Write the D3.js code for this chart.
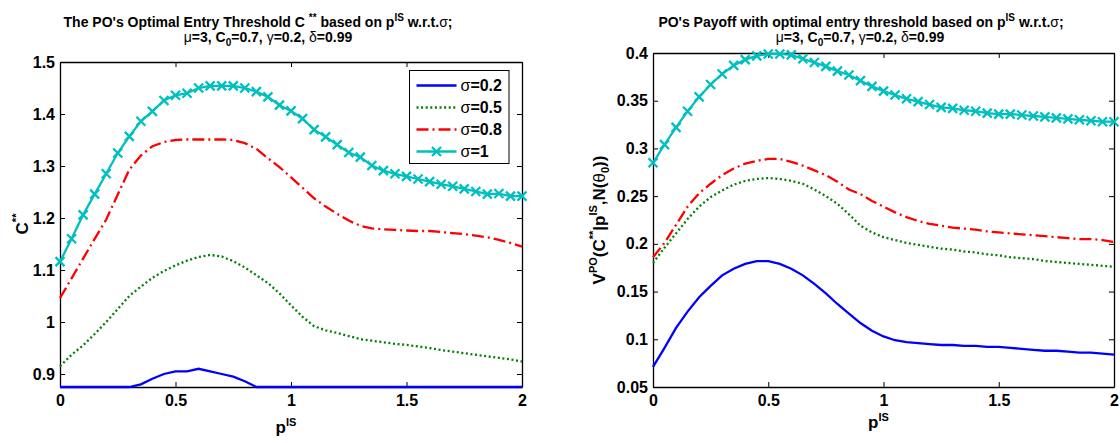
<!DOCTYPE html>
<html>
<head>
<meta charset="utf-8">
<script src="https://cdn.jsdelivr.net/npm/d3@7"></script>
<style>
  body { margin: 0; background: #fff; }
  svg text { font-family: "Liberation Sans", Arial, Helvetica, sans-serif; font-weight: bold; fill: #000; }
  .greek { font-weight: normal; }
</style>
</head>
<body>
<svg id="fig" width="1120" height="443"></svg>
<script>
// ---- data ----
const pIS = [0, 0.05, 0.1, 0.15, 0.2, 0.25, 0.3, 0.35, 0.4, 0.45, 0.5, 0.55, 0.6, 0.65, 0.7,
  0.75, 0.8, 0.85, 0.9, 0.95, 1, 1.05, 1.1, 1.15, 1.2, 1.25, 1.3, 1.35, 1.4, 1.45, 1.5,
  1.55, 1.6, 1.65, 1.7, 1.75, 1.8, 1.85, 1.9, 1.95, 2];

const xTicks = [0, 0.5, 1, 1.5, 2];
const thresholdTicks = [0.9, 1, 1.1, 1.2, 1.3, 1.4, 1.5];
const payoffTicks = [0.05, 0.1, 0.15, 0.2, 0.25, 0.3, 0.35, 0.4];
const sigmaLabels = ['0.2', '0.5', '0.8', '1'];

// optimal entry threshold C**
const thrS02 = [0.875, 0.875, 0.875, 0.875, 0.875, 0.875, 0.875, 0.880, 0.891, 0.900,
  0.905, 0.905, 0.910, 0.905, 0.900, 0.895, 0.886, 0.875, 0.875, 0.875,
  0.875, 0.875, 0.875, 0.875, 0.875, 0.875, 0.875, 0.875, 0.875, 0.875,
  0.875, 0.875, 0.875, 0.875, 0.875, 0.875, 0.875, 0.875, 0.875, 0.875, 0.875];
const thrS05 = [0.915, 0.937, 0.955, 0.977, 1.000, 1.025, 1.050, 1.068, 1.085, 1.098,
  1.109, 1.118, 1.125, 1.129, 1.126, 1.117, 1.105, 1.090, 1.075, 1.055,
  1.032, 1.010, 0.992, 0.984, 0.979, 0.973, 0.967, 0.964, 0.961, 0.958,
  0.956, 0.953, 0.950, 0.946, 0.943, 0.940, 0.937, 0.934, 0.931, 0.928, 0.924];
const thrS08 = [1.046, 1.084, 1.122, 1.160, 1.197, 1.245, 1.293, 1.320, 1.338, 1.346,
  1.350, 1.351, 1.351, 1.351, 1.351, 1.350, 1.344, 1.333, 1.315, 1.298,
  1.278, 1.258, 1.238, 1.222, 1.208, 1.195, 1.185, 1.180, 1.178, 1.177,
  1.176, 1.175, 1.175, 1.173, 1.171, 1.169, 1.166, 1.163, 1.158, 1.152, 1.145];
const thrS1 = [1.116, 1.160, 1.206, 1.246, 1.285, 1.325, 1.357, 1.386, 1.405, 1.426,
  1.436, 1.440, 1.450, 1.454, 1.454, 1.454, 1.450, 1.443, 1.433, 1.417,
  1.406, 1.391, 1.370, 1.356, 1.341, 1.326, 1.317, 1.301, 1.291, 1.285,
  1.280, 1.275, 1.270, 1.265, 1.261, 1.256, 1.251, 1.246, 1.247, 1.242, 1.242];

// PO's payoff V^PO
const payS02 = [0.071, 0.091, 0.112, 0.129, 0.144, 0.156, 0.167, 0.174, 0.179, 0.182,
  0.182, 0.179, 0.174, 0.167, 0.158, 0.148, 0.137, 0.127, 0.117, 0.109,
  0.103, 0.099, 0.097, 0.096, 0.095, 0.094, 0.094, 0.093, 0.093, 0.092,
  0.092, 0.091, 0.090, 0.089, 0.088, 0.088, 0.087, 0.086, 0.086, 0.085, 0.084];
const payS05 = [0.180, 0.196, 0.211, 0.226, 0.239, 0.249, 0.256, 0.262, 0.266, 0.268,
  0.269, 0.268, 0.266, 0.263, 0.257, 0.250, 0.242, 0.231, 0.219, 0.212,
  0.207, 0.204, 0.201, 0.199, 0.197, 0.195, 0.194, 0.192, 0.191, 0.189,
  0.188, 0.186, 0.185, 0.184, 0.182, 0.181, 0.180, 0.179, 0.178, 0.177, 0.176];
const payS08 = [0.186, 0.201, 0.220, 0.239, 0.253, 0.263, 0.272, 0.279, 0.284, 0.287,
  0.289, 0.289, 0.286, 0.282, 0.277, 0.272, 0.265, 0.257, 0.252, 0.245,
  0.239, 0.233, 0.228, 0.224, 0.221, 0.219, 0.217, 0.216, 0.215, 0.213,
  0.212, 0.211, 0.210, 0.209, 0.208, 0.207, 0.206, 0.205, 0.205, 0.204, 0.202];
const payS1 = [0.285, 0.304, 0.322, 0.339, 0.354, 0.367, 0.378, 0.387, 0.393, 0.397,
  0.399, 0.399, 0.398, 0.394, 0.390, 0.386, 0.381, 0.377, 0.371, 0.365,
  0.360, 0.356, 0.352, 0.349, 0.346, 0.343, 0.342, 0.340, 0.339, 0.337,
  0.336, 0.336, 0.335, 0.334, 0.333, 0.332, 0.331, 0.330, 0.329, 0.328, 0.328];

// ---- styles per sigma ----
const styles = [
  { color: '#0000ff', dash: null, marker: false },
  { color: '#008000', dash: '2,2.6', marker: false },
  { color: '#ff0000', dash: '12,4,2,4', marker: false },
  { color: '#00bfbf', dash: null, marker: true }
];

const svg = d3.select('#fig');
const crossPath = 'M-4.5,-4.5L4.5,4.5M-4.5,4.5L4.5,-4.5';
const lineW = 2.3;

function drawPanel(opt) {
  const x = d3.scaleLinear().domain([0, 2]).range([opt.left, opt.right]);
  const y = d3.scaleLinear().domain(opt.yDomain).range([opt.bottom, opt.top]);
  const g = svg.append('g');

  function styleAxis(sel) {
    sel.attr('font-size', 16).attr('font-family', null);
    sel.selectAll('path.domain').attr('stroke', '#000').attr('stroke-width', 1.3);
    sel.selectAll('.tick line').attr('stroke', '#000');
  }

  g.append('g').attr('transform', `translate(0,${opt.bottom})`)
    .call(d3.axisBottom(x).tickValues(xTicks).tickSizeInner(-5).tickSizeOuter(0)
      .tickPadding(8).tickFormat(d => String(d)))
    .call(styleAxis);
  g.append('g').attr('transform', `translate(0,${opt.top})`)
    .call(d3.axisTop(x).tickValues(xTicks).tickSizeInner(-5).tickSizeOuter(0).tickFormat(''))
    .call(styleAxis);
  g.append('g').attr('transform', `translate(${opt.left},0)`)
    .call(d3.axisLeft(y).tickValues(opt.yTicks).tickSizeInner(-5).tickSizeOuter(0)
      .tickPadding(5).tickFormat(d => String(d)))
    .call(styleAxis);
  g.append('g').attr('transform', `translate(${opt.right},0)`)
    .call(d3.axisRight(y).tickValues(opt.yTicks).tickSizeInner(-5).tickSizeOuter(0).tickFormat(''))
    .call(styleAxis);

  const line = d3.line().x((d, i) => x(pIS[i])).y(d => y(d));

  opt.series.forEach((s, k) => {
    const st = styles[k];
    g.append('path')
      .datum(s)
      .attr('fill', 'none')
      .attr('stroke', st.color)
      .attr('stroke-width', lineW)
      .attr('stroke-dasharray', st.dash)
      .attr('d', line);
    if (st.marker) {
      g.append('g').selectAll('path')
        .data(s)
        .join('path')
        .attr('transform', (d, i) => `translate(${x(pIS[i])},${y(d)})`)
        .attr('d', crossPath)
        .attr('fill', 'none')
        .attr('stroke', st.color)
        .attr('stroke-width', lineW);
    }
  });

  // x label p^IS
  const xl = g.append('text')
    .attr('x', (opt.left + opt.right) / 2 - 5)
    .attr('y', opt.xLabelY)
    .attr('text-anchor', 'middle')
    .attr('font-size', 17);
  xl.append('tspan').text('p');
  xl.append('tspan').attr('font-size', 11).attr('dy', -7).text('IS');

  return { x, y, g };
}

function addTitle(cx1, cx2, parts) {
  const t1 = svg.append('text').attr('x', cx1).attr('y', 27)
    .attr('text-anchor', 'middle').attr('font-size', 14);
  parts.forEach(p => {
    const ts = t1.append('tspan').text(p.t);
    if (p.sup) ts.attr('font-size', 10).attr('dy', -6);
    if (p.back) ts.attr('dy', 6).attr('font-size', 14);
    if (p.greek) ts.attr('class', 'greek');
  });
  const t2 = svg.append('text').attr('x', cx2).attr('y', 42)
    .attr('text-anchor', 'middle').attr('font-size', 14);
  t2.append('tspan').attr('class', 'greek').text('μ');
  t2.append('tspan').text('=3, C');
  t2.append('tspan').attr('font-size', 10).attr('dy', 4).text('0');
  t2.append('tspan').attr('dy', -4).text('=0.7, ');
  t2.append('tspan').attr('class', 'greek').text('γ');
  t2.append('tspan').text('=0.2, ');
  t2.append('tspan').attr('class', 'greek').text('δ');
  t2.append('tspan').text('=0.99');
}

// ---- left panel: optimal entry threshold ----
const left = drawPanel({
  left: 60, right: 522, top: 62, bottom: 387,
  yDomain: [0.875, 1.5], yTicks: thresholdTicks,
  series: [thrS02, thrS05, thrS08, thrS1],
  xLabelY: 433
});

const yl1 = svg.append('text')
  .attr('transform', 'translate(28,224) rotate(-90)')
  .attr('text-anchor', 'middle')
  .attr('font-size', 17);
yl1.append('tspan').text('C');
yl1.append('tspan').attr('font-size', 11).attr('dy', -8).text('**');

addTitle(258, 268, [
  { t: "The PO's Optimal Entry Threshold C " },
  { t: '**', sup: true },
  { t: ' based on p', back: true },
  { t: 'IS', sup: true },
  { t: ' w.r.t.', back: true },
  { t: 'σ', greek: true },
  { t: ';' }
]);

// legend
const lg = svg.append('g').attr('transform', 'translate(409.5,70.5)');
lg.append('rect').attr('width', 99.5).attr('height', 93)
  .attr('fill', '#fff').attr('stroke', '#000').attr('stroke-width', 1);
const rowY = d3.scalePoint().domain(sigmaLabels).range([15, 81]);
sigmaLabels.forEach((lab, k) => {
  const st = styles[k];
  const yy = rowY(lab);
  lg.append('line').attr('x1', 7).attr('x2', 47).attr('y1', yy).attr('y2', yy)
    .attr('stroke', st.color).attr('stroke-width', lineW)
    .attr('stroke-dasharray', st.dash);
  if (st.marker) {
    lg.append('path').attr('transform', `translate(27,${yy})`).attr('d', crossPath)
      .attr('fill', 'none').attr('stroke', st.color).attr('stroke-width', lineW);
  }
  const tx = lg.append('text').attr('x', 51).attr('y', yy + 5.5).attr('font-size', 16);
  tx.append('tspan').attr('class', 'greek').text('σ');
  tx.append('tspan').text('=' + lab);
});

// ---- right panel: PO's payoff ----
const right = drawPanel({
  left: 653, right: 1114, top: 53, bottom: 387,
  yDomain: [0.05, 0.4], yTicks: payoffTicks,
  series: [payS02, payS05, payS08, payS1],
  xLabelY: 428
});

const yl2 = svg.append('text')
  .attr('transform', 'translate(605,220) rotate(-90)')
  .attr('text-anchor', 'middle')
  .attr('font-size', 17);
yl2.append('tspan').text('V');
yl2.append('tspan').attr('font-size', 11).attr('dy', -8).text('PO');
yl2.append('tspan').attr('dy', 8).text('(C');
yl2.append('tspan').attr('font-size', 11).attr('dy', -8).text('**');
yl2.append('tspan').attr('dy', 8).text('|p');
yl2.append('tspan').attr('font-size', 11).attr('dy', -8).text('IS');
yl2.append('tspan').attr('dy', 8).text(',N(');
yl2.append('tspan').attr('class', 'greek').text('θ');
yl2.append('tspan').attr('font-size', 11).attr('dy', 4).text('0');
yl2.append('tspan').attr('dy', -4).text('))');

addTitle(861, 860, [
  { t: "PO's Payoff with optimal entry threshold based on p" },
  { t: 'IS', sup: true },
  { t: ' w.r.t.', back: true },
  { t: 'σ', greek: true },
  { t: ';' }
]);
</script>
</body>
</html>
